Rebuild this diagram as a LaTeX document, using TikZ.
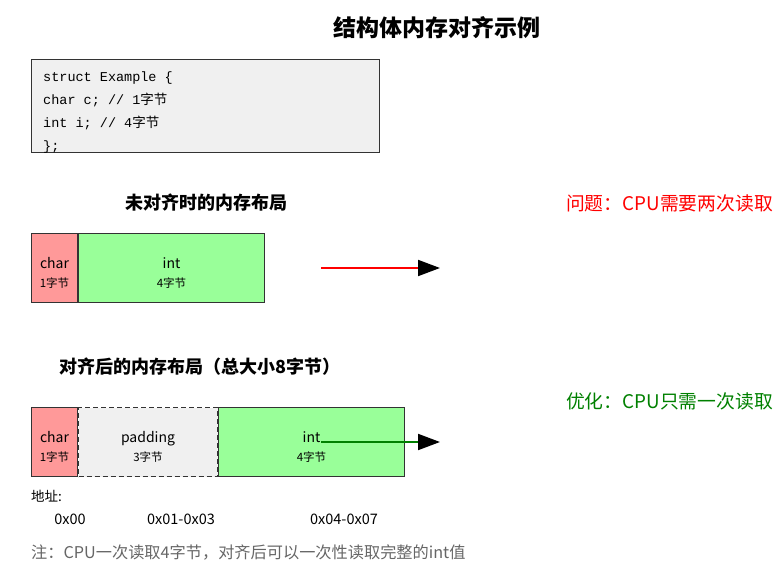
\documentclass[tikz,border=0pt]{standalone}
\usepackage{fontspec}
\setmainfont{Noto Sans CJK SC}
\setmonofont{Liberation Mono}
\newfontfamily\cjk{Noto Sans CJK SC}
\usetikzlibrary{positioning,arrows.meta}
\definecolor{charred}{HTML}{FF9999}
\definecolor{intgreen}{HTML}{99FF99}
\definecolor{padgray}{HTML}{F0F0F0}
\definecolor{okgreen}{HTML}{008000}
\definecolor{notegray}{HTML}{666666}
\definecolor{edgegray}{HTML}{333333}
\newcommand{\zj}{{\cjk 字节}}

\begin{document}
\begin{tikzpicture}[x=1pt,y=-1pt,inner sep=0pt,>=Stealth,
    cell/.style={draw=edgegray,line width=1pt,minimum height=69pt},
    txt/.style 2 args={label={[align=center,yshift=-5pt,
        font=\fontsize{14}{19}\selectfont]center:{#1\\{\fontsize{11.5}{13}\selectfont #2}}}},
    head/.style={font=\fontsize{18}{21}\selectfont\bfseries},
    code/.style={anchor=base west,font=\ttfamily\fontsize{13.5}{16}\selectfont},
    addr/.style={font=\fontsize{14.5}{17}\selectfont},
    bigtip/.style={-{Triangle[length=22pt,width=16pt,color=black]}}]
  \useasboundingbox (0,0) rectangle (780,567);

  \node[font=\fontsize{23}{27}\selectfont\bfseries] (title) at (437,28) {结构体内存对齐示例};

  % struct code
  \node[draw=edgegray,fill=padgray,line width=1pt,anchor=north west,
        minimum width=348pt,minimum height=93pt] (src) at (31,59) {};
  \foreach \t [count=\k] in {struct Example \{,char c; // 1\zj,int i; // 4\zj,\};}
    \node[code] (l\k) at (43,59+23*\k) {\t};

  % unaligned
  \node[head] (h1) at (206,203) {未对齐时的内存布局};
  \node[cell,fill=charred,minimum width=46pt,anchor=north west,txt={char}{1字节}] (c1) at (31,233) {};
  \node[cell,fill=intgreen,minimum width=186pt,right=0pt of c1,txt={int}{4字节}] (i1) {};
  \coordinate (a1) at (321,268);
  \coordinate (b1) at (440,268);
  \draw[red,line width=2pt,bigtip] (a1) -- (b1);
  \node[red,anchor=east,font=\fontsize{18.8}{22}\selectfont] (p1) at (773,203) {问题：CPU需要两次读取};

  % aligned
  \node[head] (h2) at (200,367) {对齐后的内存布局（总大小8字节）};
  \node[cell,fill=charred,minimum width=46pt,anchor=north west,txt={char}{1字节}] (c2) at (31,407) {};
  \node[cell,fill=padgray,dash pattern=on 5pt off 3pt,minimum width=139pt,right=0pt of c2,txt={padding}{3字节}] (pad) {};
  \node[cell,fill=intgreen,minimum width=186pt,right=0pt of pad,txt={int}{4字节}] (i2) {};
  \coordinate (a2) at (321,442);
  \coordinate (b2) at (440,442);
  \draw[okgreen,line width=2pt,bigtip] (a2) -- (b2);
  \node[okgreen,anchor=east,font=\fontsize{18.8}{22}\selectfont] (p2) at (773,401) {优化：CPU只需一次读取};

  % addresses
  \node[anchor=west,font=\fontsize{13.5}{16}\selectfont] (ad) at (31,496) {地址:};
  \node[addr] (x0) at (70,519) {0x00};
  \node[addr] (x1) at (181,519) {0x01-0x03};
  \node[addr] (x2) at (344,519) {0x04-0x07};

  \node[notegray,anchor=west,font=\fontsize{16.2}{19}\selectfont] (note) at (31,552)
    {注：CPU一次读取4字节，对齐后可以一次性读取完整的int值};
\end{tikzpicture}
\end{document}
